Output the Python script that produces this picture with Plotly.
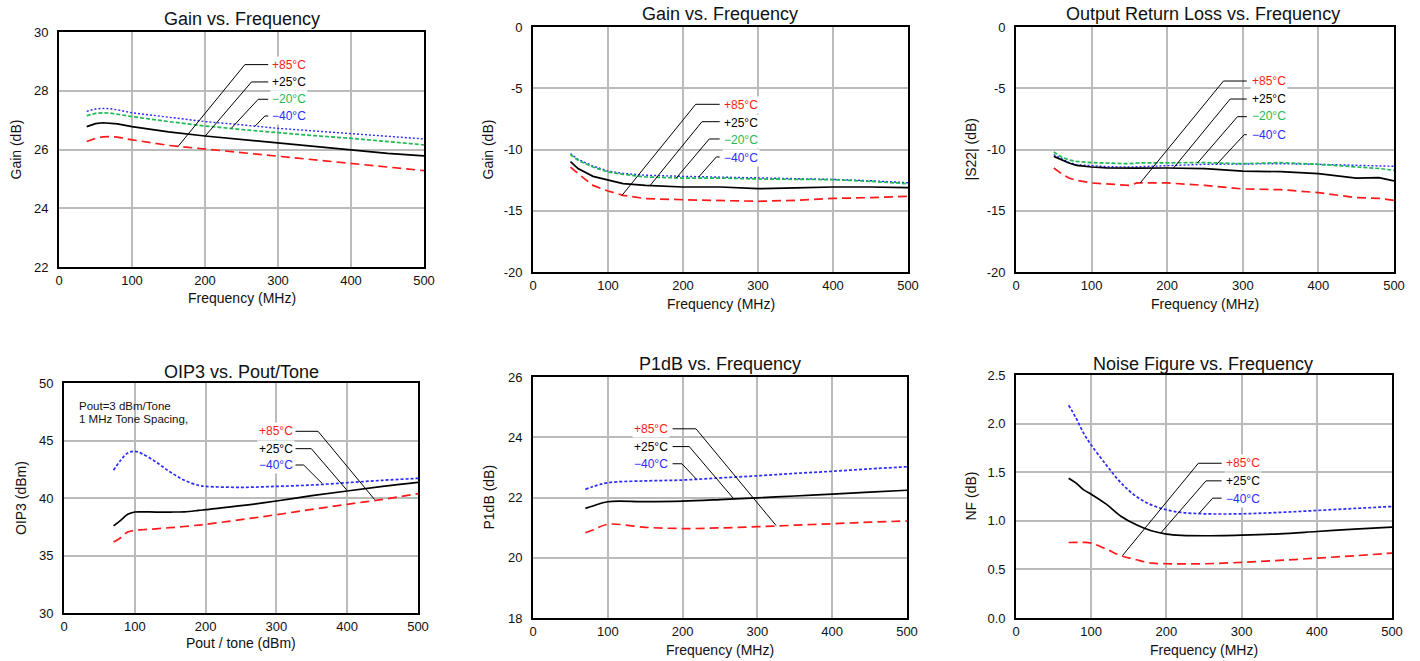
import plotly.graph_objects as go

W, H = 1420, 661

# ---------------- Panel 1 : Gain vs Frequency (zoomed) ----------------
p1_freq = [38, 50, 60, 70, 80, 100, 150, 200, 250, 300, 350, 400, 450, 500]
p1_85 = [26.27, 26.38, 26.43, 26.44, 26.42, 26.33, 26.14, 26.02, 25.90, 25.78, 25.66, 25.53, 25.41, 25.28]
p1_25 = [26.78, 26.88, 26.91, 26.90, 26.87, 26.78, 26.60, 26.46, 26.34, 26.23, 26.10, 25.98, 25.87, 25.78]
p1_m20 = [27.15, 27.23, 27.25, 27.24, 27.20, 27.12, 26.95, 26.80, 26.68, 26.57, 26.47, 26.38, 26.27, 26.16]
p1_m40 = [27.30, 27.38, 27.40, 27.39, 27.35, 27.25, 27.10, 26.95, 26.84, 26.72, 26.63, 26.55, 26.45, 26.36]

# ---------------- Panel 2 : Gain vs Frequency (reverse) ----------------
p2_freq = [50, 60, 80, 100, 120, 150, 200, 250, 300, 350, 400, 450, 500]
p2_85 = [-11.43, -11.97, -12.93, -13.39, -13.74, -14.01, -14.10, -14.15, -14.23, -14.15, -13.99, -13.93, -13.82]
p2_25 = [-10.99, -11.56, -12.19, -12.52, -12.79, -12.93, -13.06, -13.06, -13.20, -13.14, -13.06, -13.06, -13.12]
p2_m20 = [-10.42, -10.88, -11.43, -11.84, -12.03, -12.24, -12.33, -12.33, -12.41, -12.41, -12.46, -12.60, -12.79]
p2_m40 = [-10.34, -10.80, -11.35, -11.76, -11.95, -12.10, -12.19, -12.24, -12.30, -12.36, -12.44, -12.55, -12.71]

# ---------------- Panel 3 : Output Return Loss ----------------
p3_freq = [50, 60, 70, 80, 100, 120, 150, 160, 200, 250, 300, 350, 400, 450, 480, 500]
p3_85 = [-11.51, -11.97, -12.33, -12.52, -12.73, -12.79, -12.93, -12.73, -12.73, -12.93, -13.22, -13.28, -13.52, -13.93, -13.99, -14.15]
p3_25 = [-10.56, -10.83, -11.10, -11.29, -11.43, -11.50, -11.56, -11.52, -11.51, -11.56, -11.76, -11.81, -11.97, -12.33, -12.30, -12.57]
p3_m20 = [-10.20, -10.61, -10.85, -10.97, -11.07, -11.10, -11.16, -11.10, -11.07, -11.07, -11.16, -11.07, -11.21, -11.43, -11.55, -11.70]
p3_m40 = [-10.42, -10.75, -11.05, -11.24, -11.35, -11.40, -11.43, -11.40, -11.32, -11.21, -11.16, -11.16, -11.21, -11.29, -11.33, -11.37]

# ---------------- Panel 4 : OIP3 ----------------
p4_x = [70, 80, 90, 100, 110, 130, 150, 170, 190, 200, 250, 300, 350, 400, 450, 500]
p4_85 = [36.17, 36.55, 37.04, 37.19, 37.24, 37.32, 37.42, 37.52, 37.65, 37.71, 38.12, 38.55, 39.01, 39.45, 39.88, 40.38]
p4_25 = [37.57, 38.06, 38.58, 38.78, 38.80, 38.78, 38.78, 38.80, 38.92, 38.99, 39.33, 39.74, 40.20, 40.61, 41.01, 41.36]
p4_m40 = [42.41, 43.28, 43.91, 44.06, 43.86, 43.13, 42.26, 41.54, 41.10, 41.01, 40.93, 41.01, 41.13, 41.33, 41.54, 41.71]

# ---------------- Panel 5 : P1dB ----------------
p5_freq = [70, 80, 100, 150, 200, 250, 300, 350, 400, 450, 500]
p5_85 = [20.83, 20.92, 21.11, 21.01, 20.97, 20.99, 21.03, 21.08, 21.13, 21.18, 21.22]
p5_25 = [21.64, 21.72, 21.86, 21.86, 21.88, 21.93, 21.99, 22.05, 22.11, 22.18, 22.24]
p5_m40 = [22.27, 22.36, 22.49, 22.55, 22.58, 22.65, 22.72, 22.80, 22.87, 22.95, 23.02]

# ---------------- Panel 6 : Noise Figure ----------------
p6_freq = [70, 80, 90, 100, 120, 140, 160, 180, 200, 220, 250, 300, 350, 400, 450, 500]
p6_85 = [0.777, 0.778, 0.778, 0.770, 0.709, 0.640, 0.599, 0.565, 0.558, 0.556, 0.558, 0.572, 0.592, 0.616, 0.640, 0.668]
p6_25 = [1.438, 1.387, 1.318, 1.274, 1.171, 1.045, 0.959, 0.897, 0.863, 0.850, 0.846, 0.853, 0.866, 0.890, 0.914, 0.935]
p6_m40 = [2.190, 2.055, 1.900, 1.780, 1.575, 1.387, 1.250, 1.164, 1.113, 1.086, 1.072, 1.072, 1.086, 1.106, 1.127, 1.147]

# ---------------- Text ----------------
titles = ["Gain vs. Frequency", "Gain vs. Frequency", "Output Return Loss vs. Frequency",
          "OIP3 vs. Pout/Tone", "P1dB vs. Frequency", "Noise Figure vs. Frequency"]
x_titles = ["Frequency (MHz)", "Frequency (MHz)", "Frequency (MHz)",
            "Pout / tone (dBm)", "Frequency (MHz)", "Frequency (MHz)"]
y_titles = ["Gain (dB)", "Gain (dB)", "|S22| (dB)", "OIP3 (dBm)", "P1dB (dB)", "NF (dB)"]
x_ticks = [0, 100, 200, 300, 400, 500]
y_ticks = [
    [22, 24, 26, 28, 30],
    [-20, -15, -10, -5, 0],
    [-20, -15, -10, -5, 0],
    [30, 35, 40, 45, 50],
    [18, 20, 22, 24, 26],
    [0.0, 0.5, 1.0, 1.5, 2.0, 2.5],
]
y_ticktext = [
    ["22", "24", "26", "28", "30"],
    ["-20", "-15", "-10", "-5", "0"],
    ["-20", "-15", "-10", "-5", "0"],
    ["30", "35", "40", "45", "50"],
    ["18", "20", "22", "24", "26"],
    ["0.0", "0.5", "1.0", "1.5", "2.0", "2.5"],
]
note_lines = ["Pout=3 dBm/Tone", "1 MHz Tone Spacing,"]

# Label names
lab4 = ["+85°C", "+25°C", "−20°C", "−40°C"]
lab3 = ["+85°C", "+25°C", "−40°C"]

# Leader lines: ((x_a, x_b), y_level, (x_end, y_end))
p1_lead = [((254.6, 286.6), 28.89, (163, 26.10)),
           ((263.7, 286.6), 28.30, (199.7, 26.44)),
           ((272.9, 286.6), 27.71, (236, 26.72)),
           ((282.0, 286.6), 27.14, (268, 26.78))]
p1_lab_x = 289.5
p1_lab_y = [28.87, 28.29, 27.71, 27.14]
p2_lead = [((216.9, 248.9), -6.31, (118.7, -13.74)),
           ((225.3, 248.9), -7.73, (155.6, -12.98)),
           ((235.0, 248.9), -9.14, (191.0, -12.33)),
           ((244.4, 248.9), -10.61, (221.0, -12.24))]
p2_lab_x = 251.5
p2_lab_y = [-6.38, -7.80, -9.25, -10.72]
p3_lead = [((274.4, 305.3), -4.41, (164.3, -12.73)),
           ((283.3, 305.3), -5.88, (208.4, -11.51)),
           ((293.0, 305.3), -7.32, (240.0, -11.10)),
           ((301.8, 305.3), -8.79, (265.6, -11.21))]
p3_lab_x = 309.0
p3_lab_y = [-4.44, -5.90, -7.29, -8.79]
p4_lead = [((327.0, 358.8), 45.80, (438.8, 39.86)),
           ((327.0, 349.3), 44.29, (399.7, 40.67)),
           ((327.0, 338.5), 42.87, (364.9, 41.25))]
p4_lab_x = 326.0
p4_lab_y = [45.80, 44.29, 42.86]
p4_note_x = 18.5
p4_note_y = [47.97, 46.90]
p5_lead = [((186.6, 217.9), 24.28, (325.0, 21.07)),
           ((186.6, 208.9), 23.69, (267.9, 21.97)),
           ((186.6, 199.1), 23.12, (218.75, 22.60))]
p5_lab_x = 182.5
p5_lab_y = [24.26, 23.68, 23.11]
p6_lead = [((242.5, 273.5), 1.592, (141.8, 0.644)),
           ((252.7, 273.5), 1.411, (192.4, 0.873)),
           ((261.5, 273.5), 1.233, (243.8, 1.079))]
p6_lab_x = 276.5
p6_lab_y = [1.592, 1.408, 1.228]

# ---------------- Layout geometry (pixels) ----------------
boxes = [  # left, right, top, bottom
    (59, 424, 32, 267),
    (533, 908, 27, 272),
    (1016, 1394, 27, 272),
    (64, 418, 383, 613),
    (533, 907, 377, 618),
    (1016, 1392, 375, 618),
]
title_pos = [(241.5, 19), (720, 14), (1203, 14), (241, 372), (720, 364), (1203, 364)]
xt_pos = [298, 304, 304, 643, 650, 650]
yt_pos = [15, 487, 970, 21, 488, 970]

RED = "#ff1a1a"
BLACK = "#000000"
GREEN = "#1db954"
BLUE = "#2b2bff"
FONT = "Liberation Sans, Arial, sans-serif"

fig = go.Figure()

def px_x(x):
    return x / W

def px_y(y):
    return (H - y) / H

def add_series(k, x, y, color, dash, shape="linear", width=1.7):
    ax = "" if k == 1 else str(k)
    fig.add_trace(go.Scatter(x=x, y=y, mode="lines", xaxis="x" + ax, yaxis="y" + ax,
                             line=dict(color=color, width=width, dash=dash, shape=shape),
                             showlegend=False, hoverinfo="skip"))

def add_leaders(k, leads, side):
    ax = "" if k == 1 else str(k)
    for (xs, ylev, end) in leads:
        if side == "right":
            xx = [end[0], xs[0], xs[1]]
            yy = [end[1], ylev, ylev]
        else:
            xx = [xs[0], xs[1], end[0]]
            yy = [ylev, ylev, end[1]]
        fig.add_trace(go.Scatter(x=xx, y=yy, mode="lines", xaxis="x" + ax, yaxis="y" + ax,
                                 line=dict(color=BLACK, width=1), showlegend=False,
                                 hoverinfo="skip"))

DASH_R = "9px,5px"
DASH_G = "4px,2px"
DASH_B = "2px,2px"

add_series(1, p1_freq, p1_85, RED, DASH_R)
add_series(1, p1_freq, p1_m40, BLUE, DASH_B, width=1.4)
add_series(1, p1_freq, p1_m20, GREEN, DASH_G)
add_series(1, p1_freq, p1_25, BLACK, "solid")
add_leaders(1, p1_lead, "right")

add_series(2, p2_freq, p2_85, RED, DASH_R)
add_series(2, p2_freq, p2_m40, BLUE, DASH_B, width=1.4)
add_series(2, p2_freq, p2_m20, GREEN, DASH_G)
add_series(2, p2_freq, p2_25, BLACK, "solid")
add_leaders(2, p2_lead, "right")

add_series(3, p3_freq, p3_85, RED, DASH_R)
add_series(3, p3_freq, p3_m40, BLUE, DASH_B, width=1.4)
add_series(3, p3_freq, p3_m20, GREEN, DASH_G)
add_series(3, p3_freq, p3_25, BLACK, "solid")
add_leaders(3, p3_lead, "right")

add_series(4, p4_x, p4_85, RED, DASH_R, "spline")
add_series(4, p4_x, p4_m40, BLUE, "3px,2px", "spline")
add_series(4, p4_x, p4_25, BLACK, "solid", "spline")
add_leaders(4, p4_lead, "left")

add_series(5, p5_freq, p5_85, RED, DASH_R, "spline")
add_series(5, p5_freq, p5_m40, BLUE, "3px,2px", "spline")
add_series(5, p5_freq, p5_25, BLACK, "solid", "spline")
add_leaders(5, p5_lead, "left")

add_series(6, p6_freq, p6_85, RED, DASH_R, "spline")
add_series(6, p6_freq, p6_m40, BLUE, "3px,2px", "spline")
add_series(6, p6_freq, p6_25, BLACK, "solid", "spline")
add_leaders(6, p6_lead, "right")

ranges_y = [(22, 30), (-20, 0), (-20, 0), (30, 50), (18, 26), (0, 2.5)]

layout = dict(width=W, height=H, margin=dict(l=0, r=0, t=0, b=0, pad=0, autoexpand=False),
              paper_bgcolor="white", plot_bgcolor="white",
              font=dict(family=FONT, color="#111111", size=13))
for k in range(1, 7):
    l, r, t, b = boxes[k - 1]
    ax = "" if k == 1 else str(k)
    layout["xaxis" + ax] = dict(domain=[px_x(l), px_x(r)], range=[0, 500], anchor="y" + ax,
                                tickvals=x_ticks, ticktext=[str(v) for v in x_ticks],
                                showgrid=True, gridcolor="#bbbbbb", gridwidth=1.6,
                                showline=True, linecolor="black", linewidth=1.8, mirror=True,
                                zeroline=False, ticks="", automargin=False,
                                tickfont=dict(size=13, color="#111"))
    layout["yaxis" + ax] = dict(domain=[px_y(b), px_y(t)], range=list(ranges_y[k - 1]),
                                anchor="x" + ax,
                                tickvals=y_ticks[k - 1], ticktext=y_ticktext[k - 1],
                                showgrid=True, gridcolor="#bbbbbb", gridwidth=1.6,
                                showline=True, linecolor="black", linewidth=1.8, mirror=True,
                                zeroline=False, ticks="", automargin=False,
                                ticklabelstandoff=6,
                                tickfont=dict(size=13, color="#111"))
fig.update_layout(**layout)

ann = []
for k in range(6):
    tx, ty = title_pos[k]
    ann.append(dict(text=titles[k], x=px_x(tx), y=px_y(ty), xref="paper", yref="paper",
                    showarrow=False, xanchor="center", yanchor="middle",
                    font=dict(size=18, color="#111")))
    l, r, t, b = boxes[k]
    ann.append(dict(text=x_titles[k], x=px_x((l + r) / 2), y=px_y(xt_pos[k]), xref="paper",
                    yref="paper", showarrow=False, xanchor="center", yanchor="middle",
                    font=dict(size=14, color="#111")))
    ann.append(dict(text=y_titles[k], x=px_x(yt_pos[k]), y=px_y((t + b) / 2), xref="paper",
                    yref="paper", showarrow=False, xanchor="center", yanchor="middle",
                    textangle=-90, font=dict(size=14, color="#111")))

colors4 = [RED, BLACK, GREEN, BLUE]
colors3 = [RED, BLACK, BLUE]

def add_labels(k, xs, ys, names, cols, anchor):
    ax = "" if k == 1 else str(k)
    for nm, yv, c in zip(names, ys, cols):
        ann.append(dict(text=nm, x=xs, y=yv, xref="x" + ax, yref="y" + ax, showarrow=False,
                        xanchor=anchor, yanchor="middle", bgcolor="white", borderpad=1,
                        font=dict(size=12, color=c)))

add_labels(1, p1_lab_x, p1_lab_y, lab4, colors4, "left")
add_labels(2, p2_lab_x, p2_lab_y, lab4, colors4, "left")
add_labels(3, p3_lab_x, p3_lab_y, lab4, colors4, "left")
add_labels(4, p4_lab_x, p4_lab_y, lab3, colors3, "right")
add_labels(5, p5_lab_x, p5_lab_y, lab3, colors3, "right")
add_labels(6, p6_lab_x, p6_lab_y, lab3, colors3, "left")
for nl, yv in zip(note_lines, p4_note_y):
    ann.append(dict(text=nl, x=p4_note_x, y=yv, xref="x4", yref="y4", showarrow=False,
                    xanchor="left", yanchor="middle", font=dict(size=11.5, color="#111")))

fig.update_layout(annotations=ann)
fig.write_html("out.html", config={"displayModeBar": False},
               post_script="document.body.style.margin='0';document.body.style.overflow='hidden';")
